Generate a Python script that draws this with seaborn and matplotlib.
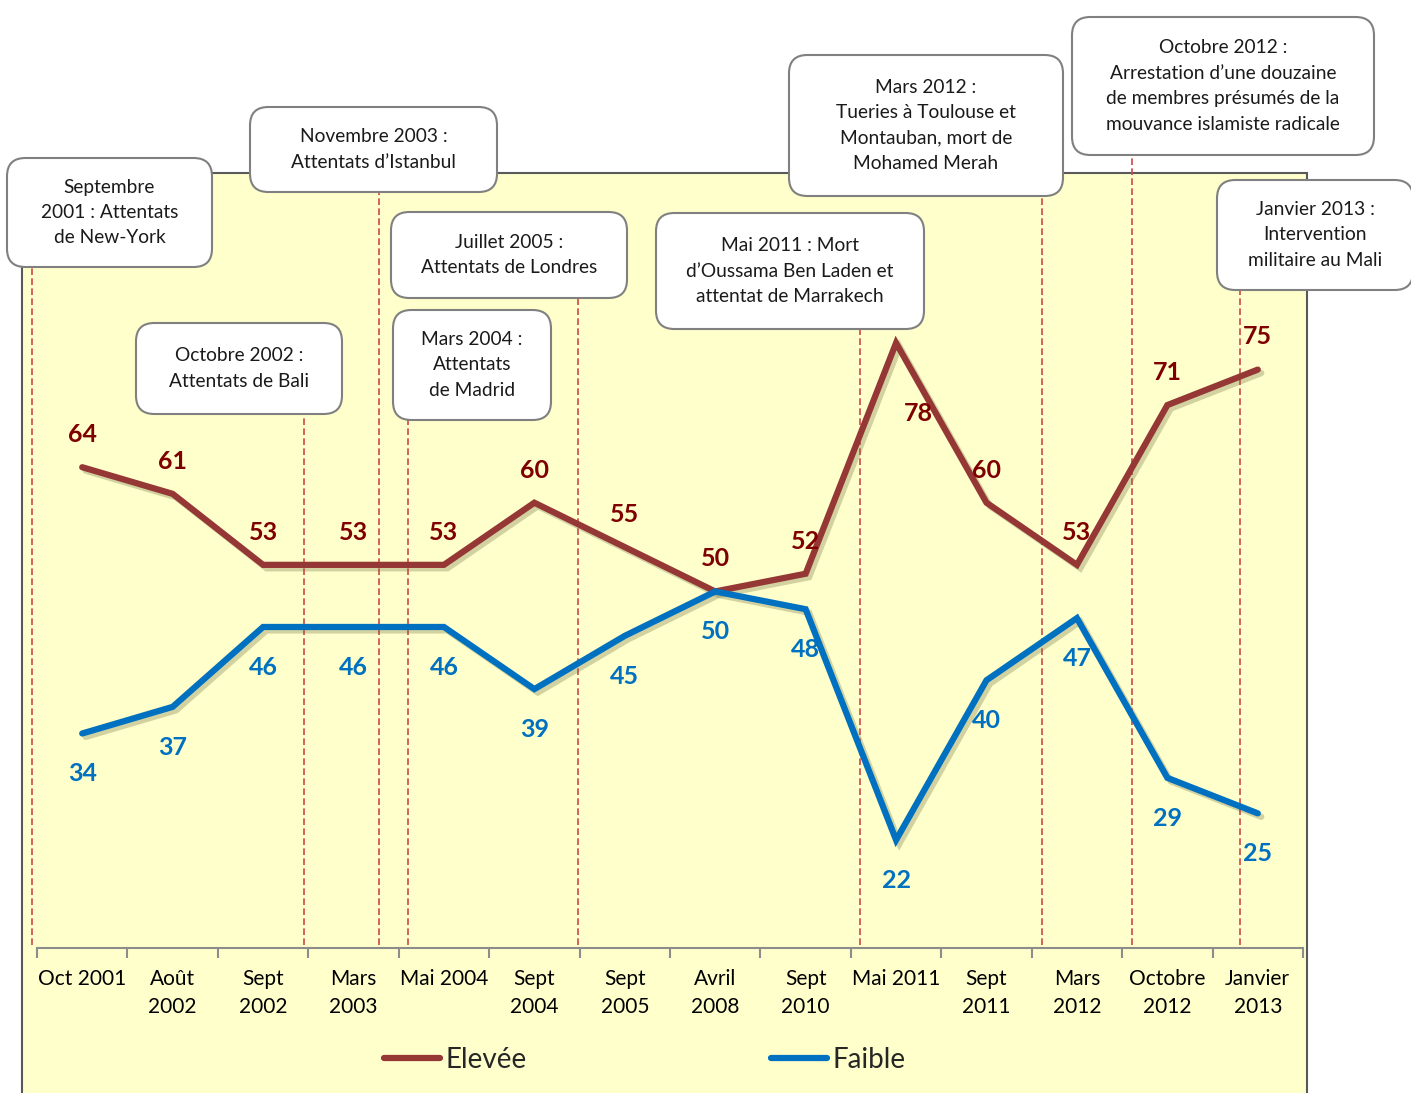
import matplotlib
matplotlib.use("Agg")
import matplotlib.pyplot as plt
import matplotlib.patheffects as pe
from matplotlib.patches import FancyBboxPatch, Rectangle
import seaborn as sns
import numpy as np
import pandas as pd

#
# 01. Données
#
categories = ["Oct 2001", "Août\n2002", "Sept\n2002", "Mars\n2003", "Mai 2004",
              "Sept\n2004", "Sept\n2005", "Avril\n2008", "Sept\n2010", "Mai 2011",
              "Sept\n2011", "Mars\n2012", "Octobre\n2012", "Janvier\n2013"]
elevee = [64, 61, 53, 53, 53, 60, 55, 50, 52, 78, 60, 53, 71, 75]
faible = [34, 37, 46, 46, 46, 39, 45, 50, 48, 22, 40, 47, 29, 25]

evenements = ["Septembre\n2001 : Attentats\nde New-York",
              "Octobre 2002 :\nAttentats de Bali",
              "Novembre 2003 :\nAttentats d’Istanbul",
              "Mars 2004 :\nAttentats\nde Madrid",
              "Juillet 2005 :\nAttentats de Londres",
              "Mai 2011 : Mort\nd’Oussama Ben Laden et\nattentat de Marrakech",
              "Mars 2012 :\nTueries à Toulouse et\nMontauban, mort de\nMohamed Merah",
              "Octobre 2012 :\nArrestation d’une douzaine\nde membres présumés de la\nmouvance islamiste radicale",
              "Janvier 2013 :\nIntervention\nmilitaire au Mali"]
# position des événements sur l'axe (en catégories)
evenements_x = [-0.555, 2.453, 3.282, 3.603, 5.483, 8.601, 10.614, 11.609, 12.803]

df = pd.DataFrame({"pos": np.arange(len(categories)),
                   "Elevée": elevee, "Faible": faible})

#
# 02. Mise en page (pixels de l'image)
#
W, H = 1411, 1093
def fx(x):
    return x / W
def fy(y):
    return 1 - y / H

# cadres des bulles (x0, y0, x1, y1)
bulles = [(7, 158, 212, 267), (136, 323, 342, 414), (250, 107, 497, 192),
          (393, 310, 551, 420), (391, 212, 627, 298), (656, 213, 924, 329),
          (789, 55, 1063, 196), (1072, 17, 1374, 155), (1217, 180, 1413, 290)]

rouge = "#953735"
bleu = "#0070C0"
rouge_txt = "#7F0000"

sns.set_theme(style="white")
plt.rcParams['font.family'] = ['Lato', 'DejaVu Sans']

fig = plt.figure(figsize=(W / 100, H / 100), dpi=100)
fig.patch.set_facecolor("white")

# fond jaune du graphique
fig.patches.append(Rectangle((fx(22), fy(1110)), fx(1307) - fx(22), fy(173) - fy(1110),
                             transform=fig.transFigure, facecolor="#FFFFCC",
                             edgecolor="#595959", linewidth=1.5, zorder=-1))

ax = fig.add_axes([fx(37), fy(948), fx(1303) - fx(37), fy(173) - fy(948)])
ax.set_facecolor("none")

#
# 03. Courbes
#
ombre = [pe.SimpleLineShadow(offset=(2.5, -2.5), shadow_color="#6b6b40", alpha=0.3),
         pe.Normal()]
sns.lineplot(data=df, x="pos", y="Elevée", color=rouge, linewidth=4.5,
             label="Elevée", ax=ax, sort=False)
sns.lineplot(data=df, x="pos", y="Faible", color=bleu, linewidth=4.5,
             label="Faible", ax=ax, sort=False)
for ln in ax.lines:
    ln.set_path_effects(ombre)
    ln.set_solid_joinstyle("miter")
    ln.set_zorder(3)

ax.set_xlim(-0.5, len(categories) - 0.5)
ax.set_ylim(9.83, 97.15)

# étiquettes de valeurs
for i, v in enumerate(elevee):
    dx, dy = (16, -51) if v == 78 else (0, 23.5)
    ax.annotate(str(v), (i, v), xytext=(dx, dy), textcoords="offset points",
                ha="center", va="center", fontsize=18, fontweight="bold",
                color=rouge_txt, zorder=5)
for i, v in enumerate(faible):
    ax.annotate(str(v), (i, v), xytext=(0, -29), textcoords="offset points",
                ha="center", va="center", fontsize=18, fontweight="bold",
                color=bleu, zorder=5)

#
# 04. Lignes verticales et bulles
#
ax_h = 948 - 173
for ex, (x0, y0, x1, y1) in zip(evenements_x, bulles):
    ax.axvline(ex, ymin=3 / ax_h, ymax=(948 - y1) / ax_h, color="#D0474A",
               linewidth=1.2, linestyle=(0, (4, 2)), clip_on=False, zorder=2)

for txt, (x0, y0, x1, y1) in zip(evenements, bulles):
    boite = FancyBboxPatch((fx(x0), fy(y1)), fx(x1) - fx(x0), fy(y0) - fy(y1),
                           boxstyle="round,pad=0,rounding_size=0.013",
                           transform=fig.transFigure, facecolor="white",
                           edgecolor="#808080", linewidth=1.5, zorder=4,
                           mutation_aspect=W / H)
    fig.patches.append(boite)
    fig.text(fx((x0 + x1) / 2), fy((y0 + y1) / 2), txt, ha="center", va="center",
             fontsize=13.8, linespacing=1.6, color="#1a1a1a", zorder=5)

#
# 05. Axes
#
for s in ["top", "right", "left"]:
    ax.spines[s].set_visible(False)
ax.spines["bottom"].set_color("#8c8c8c")
ax.spines["bottom"].set_linewidth(1.5)
ax.set_yticks([])
ax.set_xticks(np.arange(len(categories)))
ax.set_xticklabels(categories, fontsize=15, linespacing=1.5, va="top")
ax.set_xticks(np.arange(-0.5, len(categories), 1), minor=True)
ax.tick_params(axis="x", which="major", length=0, pad=15, colors="black")
ax.tick_params(axis="x", which="minor", length=7, width=1.5, color="#8c8c8c",
               direction="out", bottom=True)
ax.set_xlabel("")
ax.set_ylabel("")

#
# 06. Légende
#
leg = ax.legend(loc="center", bbox_to_anchor=(fx(645), fy(1060)),
                bbox_transform=fig.transFigure, ncol=2, frameon=False,
                fontsize=20, handlelength=2.0, handletextpad=0.2,
                columnspacing=8.8)
for h in leg.get_lines():
    h.set_path_effects([])
    h.set_linewidth(4.5)

#
# 07. Sauvegarde
#
plt.savefig("out.png", dpi=100)
